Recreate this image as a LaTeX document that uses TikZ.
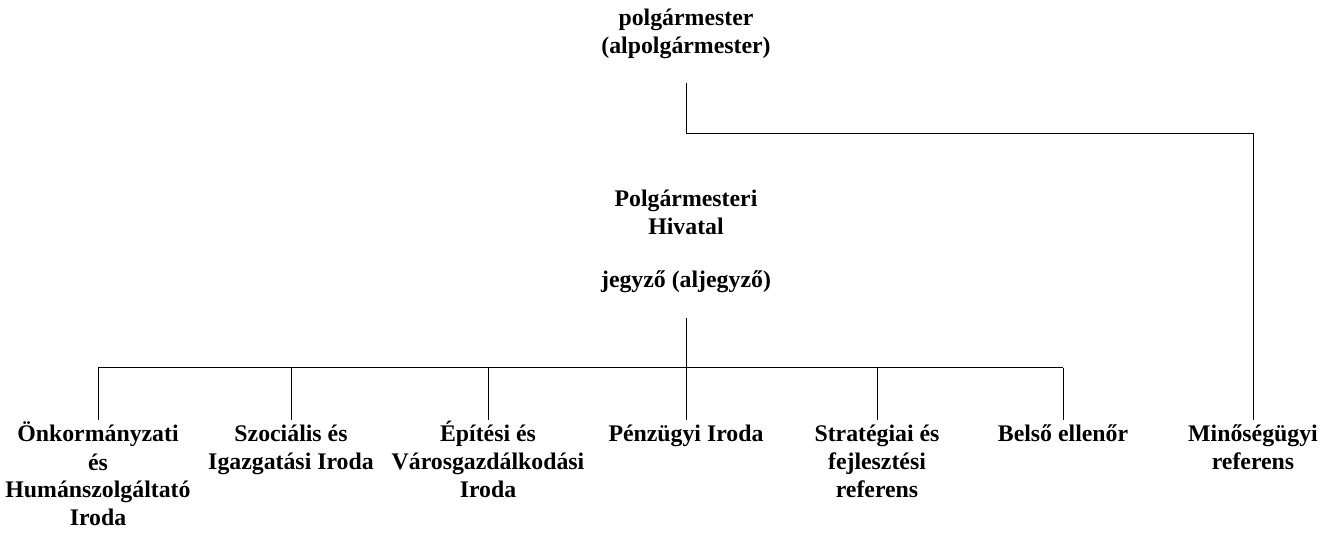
\documentclass[tikz,border=0pt]{standalone}
\usepackage{fontspec}
\setmainfont{Liberation Serif}

\begin{document}
\begin{tikzpicture}[x=0.5pt,y=-0.5pt,
    unit/.style={font=\bfseries\fontsize{11.9}{14}\selectfont, align=center, inner sep=0pt, anchor=base},
    link/.style={line width=0.5pt, black}]
            \useasboundingbox (0,0) rectangle (1329,539);
            % top level (base = last line)
            \node[unit] (mayor) at (686,54) {polgármester\\(alpolgármester)};
            \node[unit] (office) at (686,288) {Polgármesteri\\Hivatal\\[12.5pt]jegyző (aljegyző)};

            % departments
            \node[unit] (onk) at (98,526) {Önkormányzati\\és\\Humánszolgáltató\\Iroda};
            \node[unit] (szoc) at (291,470) {Szociális és\\Igazgatási Iroda};
            \node[unit] (epit) at (488,498) {Építési és\\Városgazdálkodási\\Iroda};
            \node[unit] (penz) at (686,442) {Pénzügyi Iroda};
            \node[unit] (strat) at (877,498) {Stratégiai és\\fejlesztési\\referens};
            \node[unit] (belso) at (1063,442) {Belső ellenőr};
            \node[unit] (minos) at (1253,470) {Minőségügyi\\referens};

            \coordinate (mtop) at (686,83);
            \coordinate (mbar) at (686,134);
            \coordinate (otop) at (686,318);
            \coordinate (obar) at (686,368);
            \coordinate (droprow) at (0,420);

            \draw[link] (mtop) -- (mbar) -- (mbar -| minos) -- (minos |- droprow);
            \draw[link] (otop) -- (obar);
            \draw[link] (obar -| onk) -- (obar -| belso);
            \foreach \u in {onk, szoc, epit, penz, strat, belso}{
                \draw[link] (obar -| \u) -- (\u |- droprow);
            }
        \end{tikzpicture}
\end{document}
